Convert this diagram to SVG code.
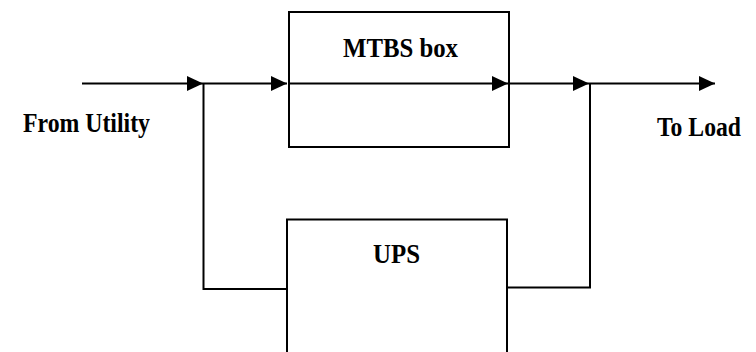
<svg xmlns="http://www.w3.org/2000/svg" width="756" height="352" viewBox="0 0 756 352">
  <style>
    .box { fill: #ffffff; stroke: #000000; stroke-width: 2; }
    .wire { fill: none; stroke: #000000; stroke-width: 2; }
  </style>
  <defs>
    <marker id="arrow" markerUnits="userSpaceOnUse" markerWidth="17" markerHeight="16" refX="16" refY="7.5" orient="auto">
      <path d="M0,0 L16,7.5 L0,15 Z" fill="#000000"/>
    </marker>
  </defs>
  <rect width="756" height="352" fill="#ffffff"/>
  <g font-family="Liberation Serif, serif" font-weight="bold" font-size="27" fill="#000000">
    <g id="mtbs-box">
      <rect class="box" x="289" y="12" width="220" height="135"/>
      <text x="343" y="57" textLength="115" lengthAdjust="spacingAndGlyphs">MTBS box</text>
    </g>
    <g id="ups">
      <rect class="box" x="287" y="219.5" width="220" height="150"/>
      <text x="373" y="263" textLength="47" lengthAdjust="spacingAndGlyphs">UPS</text>
    </g>
    <g id="from-utility">
      <text x="23" y="132" textLength="127" lengthAdjust="spacingAndGlyphs">From Utility</text>
    </g>
    <g id="to-load">
      <text x="657" y="136" textLength="84" lengthAdjust="spacingAndGlyphs">To Load</text>
    </g>
  </g>
  <g id="connectors">
    <line class="wire" x1="82" y1="83.5" x2="203" y2="83.5" marker-end="url(#arrow)"/>
    <line class="wire" x1="203" y1="83.5" x2="287" y2="83.5" marker-end="url(#arrow)"/>
    <line class="wire" x1="289" y1="83.5" x2="508" y2="83.5" marker-end="url(#arrow)"/>
    <line class="wire" x1="508" y1="83.5" x2="589" y2="83.5" marker-end="url(#arrow)"/>
    <line class="wire" x1="589" y1="83.5" x2="715" y2="83.5" marker-end="url(#arrow)"/>
    <polyline class="wire" points="203.5,83.5 203.5,289 287,289"/>
    <polyline class="wire" points="507,287.5 590,287.5 590,83.5"/>
  </g>
</svg>
